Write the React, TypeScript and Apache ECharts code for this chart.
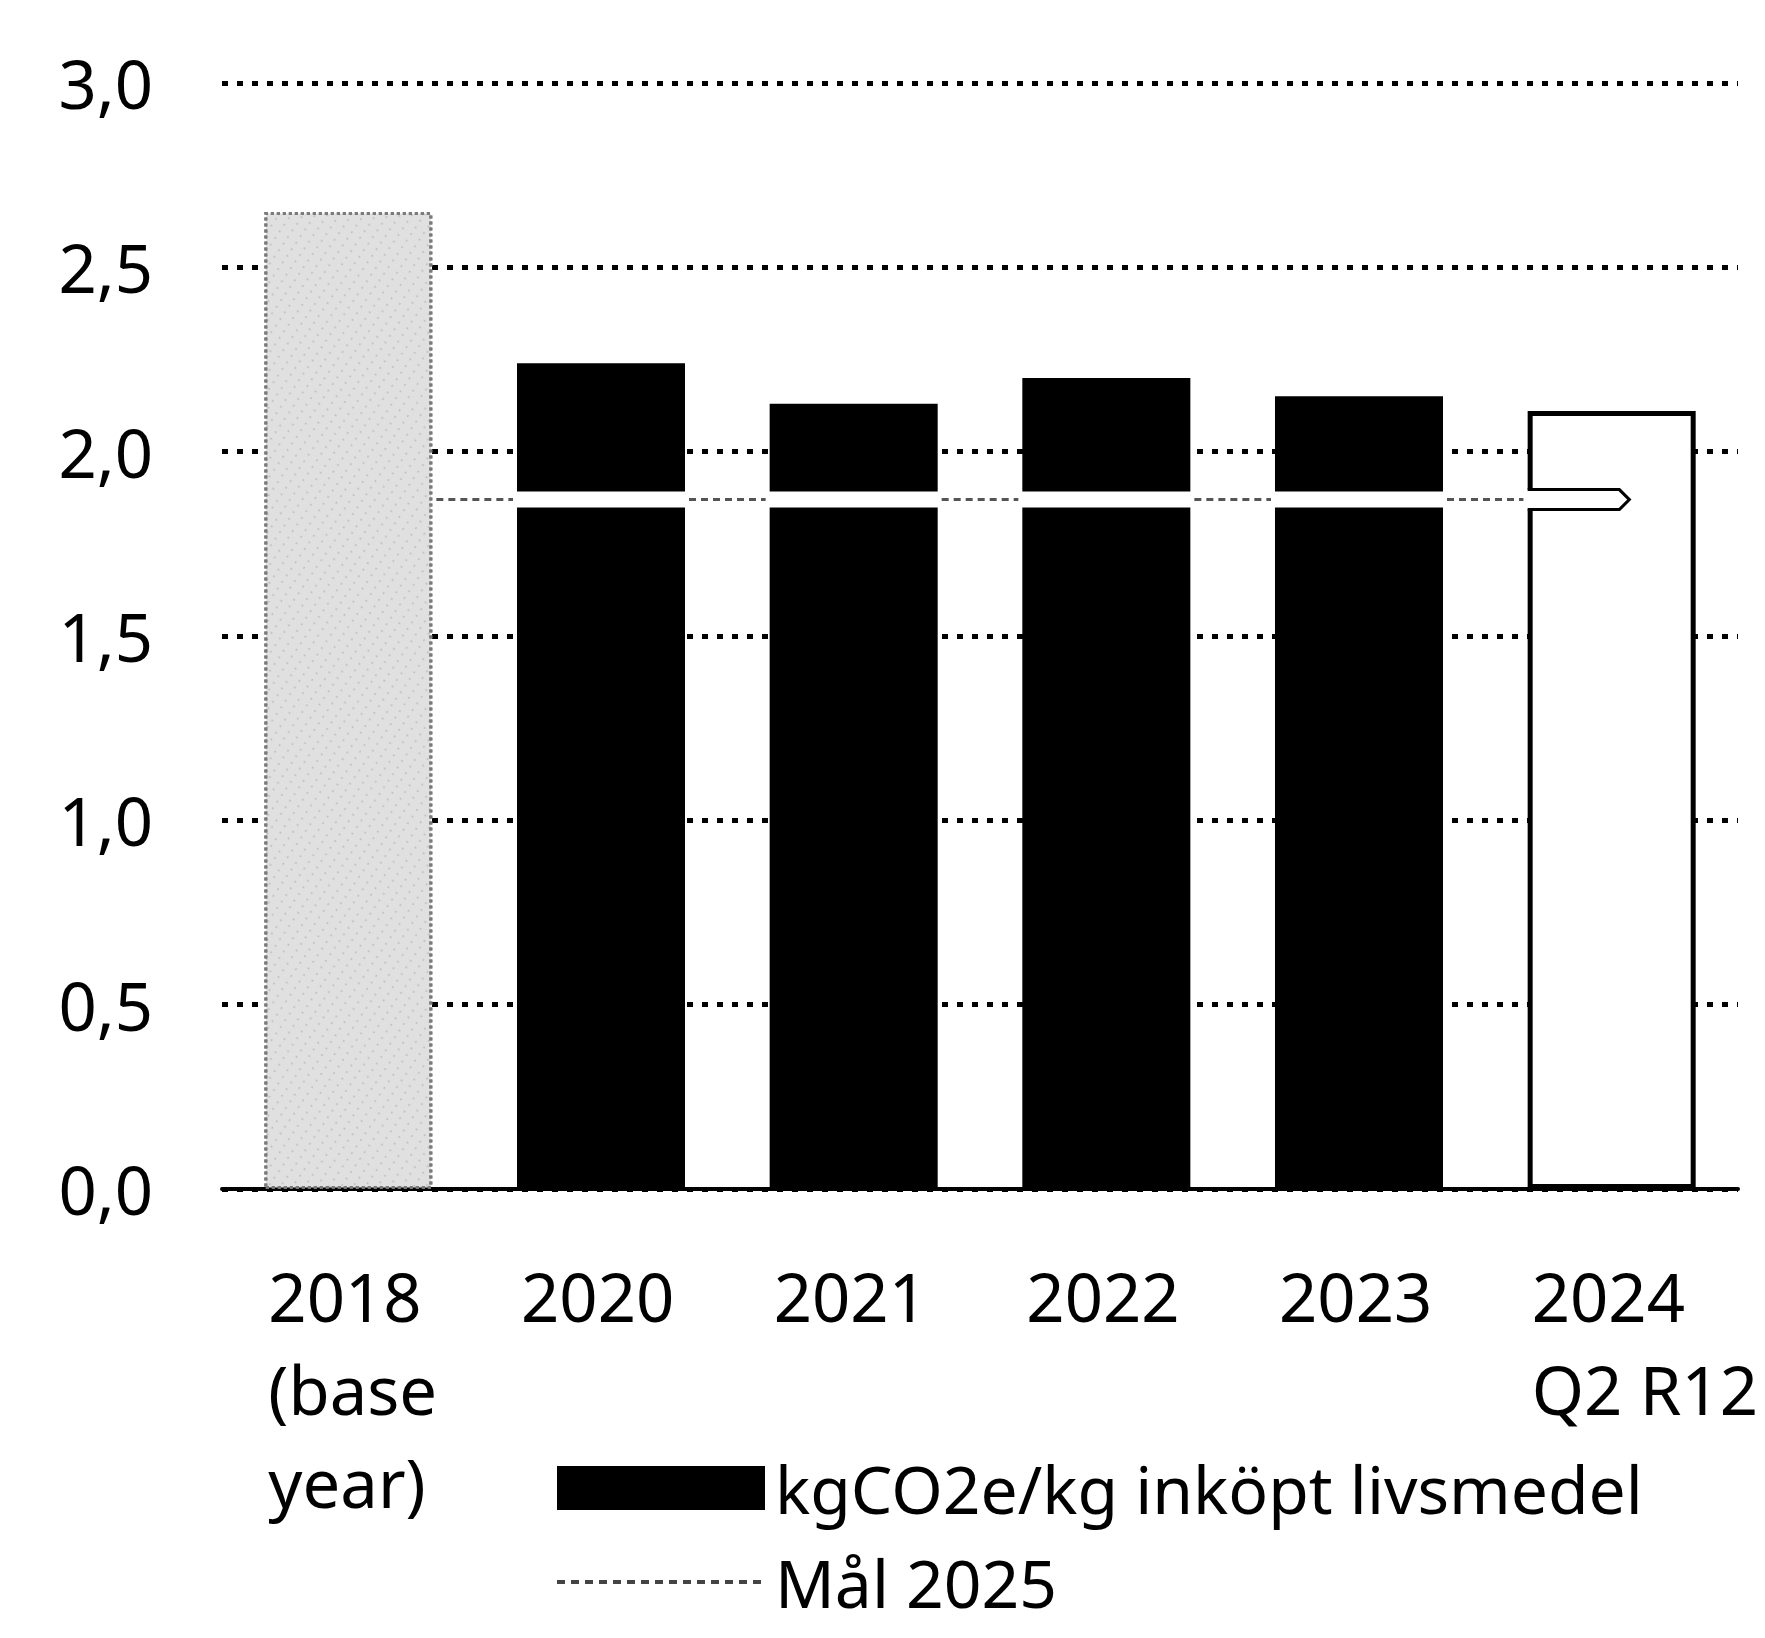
import React, { useEffect, useRef } from 'react';
import * as echarts from 'echarts';

const categories = ['2018\n(base\nyear)', '2020', '2021', '2022', '2023', '2024\nQ2 R12'];
const values = [2.65, 2.24, 2.13, 2.2, 2.15, 2.11];
const target = 1.87;
const yMin = 0;
const yMax = 3;
const yStep = 0.5;
const seriesNames = ['kgCO2e/kg inköpt livsmedel', 'Mål 2025'];

const FONT = '"Noto Sans", sans-serif';
const GAP = 0.335;

function dashIconPath(): string {
  const w = 208;
  const h = 44;
  let d = `M0,0h0.1v0.1h-0.1Z M${w - 0.1},${h - 0.1}h0.1v0.1h-0.1Z`;
  for (let x = 0; x + 8 <= w; x += 14) {
    d += ` M${x},20h8v4h-8Z`;
  }
  return 'path://' + d;
}

export default function App() {
  const ref = useRef<HTMLDivElement>(null);
  useEffect(() => {
    const chart = echarts.init(ref.current!, null, { renderer: 'svg' });
    const last = values.length - 1;
    const barData = values.map((v, i) => {
      if (i === 0) {
        return {
          value: v,
          itemStyle: {
            color: '#e0e0e0',
            borderColor: '#7a7a7a',
            borderType: 'dotted',
            borderWidth: 3,
            decal: {
              symbol: 'rect',
              symbolSize: 0.5,
              color: 'rgba(0,0,0,0.3)',
              dashArrayX: [3, 7],
              dashArrayY: [2, 6],
              rotation: 0.6,
            },
          },
        };
      }
      if (i === last) {
        return { value: v, itemStyle: { color: '#fff', borderColor: '#000', borderWidth: 5 } };
      }
      return v;
    });

    chart.setOption({
      animation: false,
      backgroundColor: '#fff',
      grid: { left: 222, right: 27, top: 83, bottom: 449 },
      legend: {
        orient: 'vertical',
        left: 557,
        top: 1455,
        padding: 0,
        itemGap: 28,
        itemWidth: 208,
        itemHeight: 44,
        selectedMode: false,
        textStyle: { fontSize: 66, color: '#000', fontFamily: FONT, lineHeight: 66, padding: [0, 0, 0, 5] },
        data: [
          { name: seriesNames[0], icon: 'rect', itemStyle: { color: '#000' } },
          { name: seriesNames[1], icon: dashIconPath(), itemStyle: { color: '#444' } },
        ],
      },
      xAxis: {
        type: 'category',
        data: categories,
        axisTick: { show: false },
        axisLine: { lineStyle: { color: '#000', width: 4 } },
        axisLabel: {
          interval: 0,
          margin: 60,
          formatter: (v: string) => v.split('\n').map((s) => `{a|${s}}`).join('\n'),
          rich: {
            a: { width: 160, align: 'left', fontSize: 67, lineHeight: 93, fontFamily: FONT, color: '#000' },
          },
        },
      },
      yAxis: {
        type: 'value',
        min: yMin,
        max: yMax,
        interval: yStep,
        axisLine: { show: false },
        axisTick: { show: false },
        axisLabel: {
          margin: 69,
          fontSize: 67,
          color: '#000',
          fontFamily: FONT,
          formatter: (v: number) => v.toFixed(1).replace('.', ','),
        },
        splitLine: { lineStyle: { color: '#000', width: 5, type: [6, 9] } },
      },
      series: [
        {
          name: seriesNames[0],
          type: 'bar',
          z: 2,
          data: barData,
          barCategoryGap: `${GAP * 100}%`,
          itemStyle: { color: '#000' },
        },
        {
          name: seriesNames[1],
          type: 'custom',
          z: 10,
          clip: false,
          itemStyle: { color: '#444' },
          data: [[0, target]],
          encode: { x: 0, y: 1 },
          renderItem: (params: any, api: any) => {
            const n = categories.length;
            const band = api.size([1, 0])[0];
            const half = (band * (1 - GAP)) / 2;
            const cy = api.coord([0, target])[1];
            const xs = categories.map((_, i) => api.coord([i, target])[0]);
            const h = 8;
            const startX = xs[0] + half + 2;
            const lastLeft = xs[n - 1] - half;
            const tipX = xs[n - 1] + band * 0.07;
            const children: any[] = [];
            children.push({
              type: 'rect',
              z2: 1,
              shape: { x: startX, y: cy - h, width: lastLeft - startX, height: 2 * h },
              style: { fill: '#fff' },
            });
            for (let i = 0; i < n - 1; i++) {
              children.push({
                type: 'line',
                z2: 2,
                shape: { x1: xs[i] + half + 4, y1: cy, x2: xs[i + 1] - half - 4, y2: cy },
                style: { stroke: '#555', lineWidth: 3, lineDash: [7, 5] },
              });
            }
            children.push({
              type: 'polygon',
              z2: 3,
              shape: {
                points: [
                  [lastLeft - 4, cy - h - 2],
                  [tipX - 10, cy - h - 2],
                  [tipX, cy],
                  [tipX - 10, cy + h + 2],
                  [lastLeft - 4, cy + h + 2],
                ],
              },
              style: { fill: '#fff' },
            });
            children.push({
              type: 'polyline',
              z2: 4,
              shape: {
                points: [
                  [lastLeft, cy - h - 2],
                  [tipX - 10, cy - h - 2],
                  [tipX, cy],
                  [tipX - 10, cy + h + 2],
                  [lastLeft, cy + h + 2],
                ],
              },
              style: { stroke: '#000', lineWidth: 3, fill: null },
            });
            return { type: 'group', children };
          },
        },
      ],
    });
    return () => chart.dispose();
  }, []);
  return (
    <div
      ref={ref}
      style={{ position: 'absolute', left: 0, top: 0, width: 1765, height: 1638, background: '#fff' }}
    />
  );
}
